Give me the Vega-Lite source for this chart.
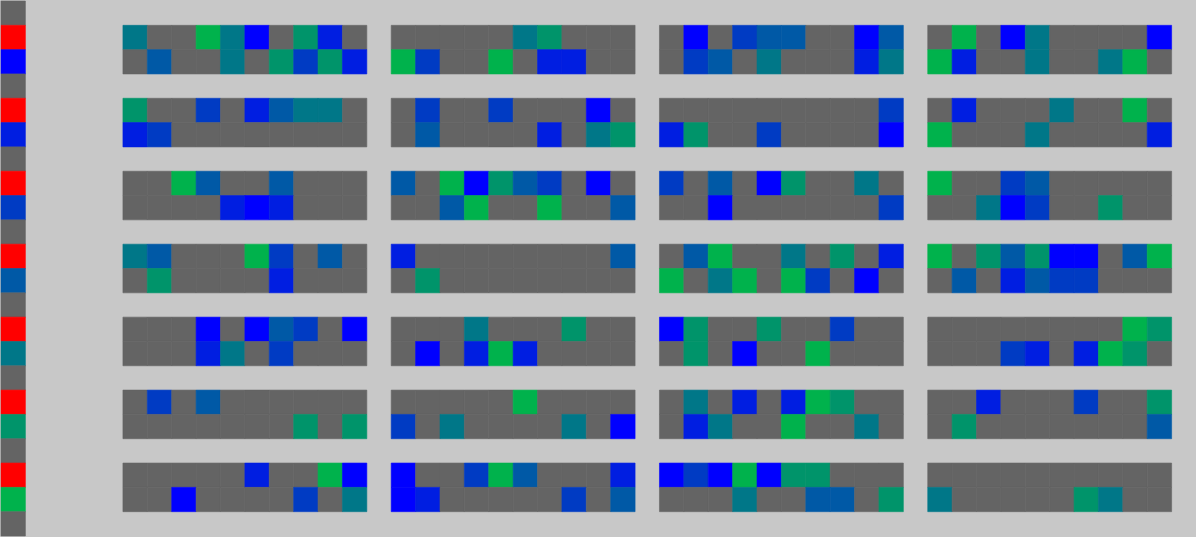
{
"$schema": "https://vega.github.io/schema/vega-lite/v6.json",
"autosize": {"type": "fit", "contains": "padding"},
"width": 1196, "height": 537, "padding": 0,
"background": "#c8c8c8",
"config": {"view": {"stroke": null}},
"data": {"values": [
{"x":0,"y":0,"c":0},{"x":0,"y":1,"c":8},{"x":0,"y":2,"c":1},{"x":0,"y":3,"c":0},{"x":0,"y":4,"c":8},{"x":0,"y":5,"c":2},{"x":0,"y":6,"c":0},{"x":0,"y":7,"c":8},{"x":0,"y":8,"c":3},{"x":0,"y":9,"c":0},{"x":0,"y":10,"c":8},{"x":0,"y":11,"c":4},{"x":0,"y":12,"c":0},{"x":0,"y":13,"c":8},{"x":0,"y":14,"c":5},{"x":0,"y":15,"c":0},{"x":0,"y":16,"c":8},{"x":0,"y":17,"c":6},{"x":0,"y":18,"c":0},{"x":0,"y":19,"c":8},{"x":0,"y":20,"c":7},{"x":0,"y":21,"c":0},

{"x":5,"y":1,"c":5},{"x":6,"y":1,"c":0},{"x":7,"y":1,"c":0},{"x":8,"y":1,"c":7},{"x":9,"y":1,"c":5},{"x":10,"y":1,"c":1},{"x":11,"y":1,"c":0},{"x":12,"y":1,"c":6},{"x":13,"y":1,"c":2},{"x":14,"y":1,"c":0},
{"x":16,"y":1,"c":0},{"x":17,"y":1,"c":0},{"x":18,"y":1,"c":0},{"x":19,"y":1,"c":0},{"x":20,"y":1,"c":0},{"x":21,"y":1,"c":5},{"x":22,"y":1,"c":6},{"x":23,"y":1,"c":0},{"x":24,"y":1,"c":0},{"x":25,"y":1,"c":0},
{"x":27,"y":1,"c":0},{"x":28,"y":1,"c":1},{"x":29,"y":1,"c":0},{"x":30,"y":1,"c":3},{"x":31,"y":1,"c":4},{"x":32,"y":1,"c":4},{"x":33,"y":1,"c":0},{"x":34,"y":1,"c":0},{"x":35,"y":1,"c":1},{"x":36,"y":1,"c":4},
{"x":38,"y":1,"c":0},{"x":39,"y":1,"c":7},{"x":40,"y":1,"c":0},{"x":41,"y":1,"c":1},{"x":42,"y":1,"c":5},{"x":43,"y":1,"c":0},{"x":44,"y":1,"c":0},{"x":45,"y":1,"c":0},{"x":46,"y":1,"c":0},{"x":47,"y":1,"c":1},

{"x":5,"y":2,"c":0},{"x":6,"y":2,"c":4},{"x":7,"y":2,"c":0},{"x":8,"y":2,"c":0},{"x":9,"y":2,"c":5},{"x":10,"y":2,"c":0},{"x":11,"y":2,"c":6},{"x":12,"y":2,"c":3},{"x":13,"y":2,"c":6},{"x":14,"y":2,"c":2},
{"x":16,"y":2,"c":7},{"x":17,"y":2,"c":3},{"x":18,"y":2,"c":0},{"x":19,"y":2,"c":0},{"x":20,"y":2,"c":7},{"x":21,"y":2,"c":0},{"x":22,"y":2,"c":2},{"x":23,"y":2,"c":2},{"x":24,"y":2,"c":0},{"x":25,"y":2,"c":0},
{"x":27,"y":2,"c":0},{"x":28,"y":2,"c":3},{"x":29,"y":2,"c":4},{"x":30,"y":2,"c":0},{"x":31,"y":2,"c":5},{"x":32,"y":2,"c":0},{"x":33,"y":2,"c":0},{"x":34,"y":2,"c":0},{"x":35,"y":2,"c":2},{"x":36,"y":2,"c":5},
{"x":38,"y":2,"c":7},{"x":39,"y":2,"c":2},{"x":40,"y":2,"c":0},{"x":41,"y":2,"c":0},{"x":42,"y":2,"c":5},{"x":43,"y":2,"c":0},{"x":44,"y":2,"c":0},{"x":45,"y":2,"c":5},{"x":46,"y":2,"c":7},{"x":47,"y":2,"c":0},

{"x":5,"y":4,"c":6},{"x":6,"y":4,"c":0},{"x":7,"y":4,"c":0},{"x":8,"y":4,"c":3},{"x":9,"y":4,"c":0},{"x":10,"y":4,"c":2},{"x":11,"y":4,"c":4},{"x":12,"y":4,"c":5},{"x":13,"y":4,"c":5},{"x":14,"y":4,"c":0},
{"x":16,"y":4,"c":0},{"x":17,"y":4,"c":3},{"x":18,"y":4,"c":0},{"x":19,"y":4,"c":0},{"x":20,"y":4,"c":3},{"x":21,"y":4,"c":0},{"x":22,"y":4,"c":0},{"x":23,"y":4,"c":0},{"x":24,"y":4,"c":1},{"x":25,"y":4,"c":0},
{"x":27,"y":4,"c":0},{"x":28,"y":4,"c":0},{"x":29,"y":4,"c":0},{"x":30,"y":4,"c":0},{"x":31,"y":4,"c":0},{"x":32,"y":4,"c":0},{"x":33,"y":4,"c":0},{"x":34,"y":4,"c":0},{"x":35,"y":4,"c":0},{"x":36,"y":4,"c":3},
{"x":38,"y":4,"c":0},{"x":39,"y":4,"c":2},{"x":40,"y":4,"c":0},{"x":41,"y":4,"c":0},{"x":42,"y":4,"c":0},{"x":43,"y":4,"c":5},{"x":44,"y":4,"c":0},{"x":45,"y":4,"c":0},{"x":46,"y":4,"c":7},{"x":47,"y":4,"c":0},

{"x":5,"y":5,"c":2},{"x":6,"y":5,"c":3},{"x":7,"y":5,"c":0},{"x":8,"y":5,"c":0},{"x":9,"y":5,"c":0},{"x":10,"y":5,"c":0},{"x":11,"y":5,"c":0},{"x":12,"y":5,"c":0},{"x":13,"y":5,"c":0},{"x":14,"y":5,"c":0},
{"x":16,"y":5,"c":0},{"x":17,"y":5,"c":4},{"x":18,"y":5,"c":0},{"x":19,"y":5,"c":0},{"x":20,"y":5,"c":0},{"x":21,"y":5,"c":0},{"x":22,"y":5,"c":2},{"x":23,"y":5,"c":0},{"x":24,"y":5,"c":5},{"x":25,"y":5,"c":6},
{"x":27,"y":5,"c":2},{"x":28,"y":5,"c":6},{"x":29,"y":5,"c":0},{"x":30,"y":5,"c":0},{"x":31,"y":5,"c":3},{"x":32,"y":5,"c":0},{"x":33,"y":5,"c":0},{"x":34,"y":5,"c":0},{"x":35,"y":5,"c":0},{"x":36,"y":5,"c":1},
{"x":38,"y":5,"c":7},{"x":39,"y":5,"c":0},{"x":40,"y":5,"c":0},{"x":41,"y":5,"c":0},{"x":42,"y":5,"c":5},{"x":43,"y":5,"c":0},{"x":44,"y":5,"c":0},{"x":45,"y":5,"c":0},{"x":46,"y":5,"c":0},{"x":47,"y":5,"c":2},

{"x":5,"y":7,"c":0},{"x":6,"y":7,"c":0},{"x":7,"y":7,"c":7},{"x":8,"y":7,"c":4},{"x":9,"y":7,"c":0},{"x":10,"y":7,"c":0},{"x":11,"y":7,"c":4},{"x":12,"y":7,"c":0},{"x":13,"y":7,"c":0},{"x":14,"y":7,"c":0},
{"x":16,"y":7,"c":4},{"x":17,"y":7,"c":0},{"x":18,"y":7,"c":7},{"x":19,"y":7,"c":1},{"x":20,"y":7,"c":6},{"x":21,"y":7,"c":4},{"x":22,"y":7,"c":3},{"x":23,"y":7,"c":0},{"x":24,"y":7,"c":1},{"x":25,"y":7,"c":0},
{"x":27,"y":7,"c":3},{"x":28,"y":7,"c":0},{"x":29,"y":7,"c":4},{"x":30,"y":7,"c":0},{"x":31,"y":7,"c":1},{"x":32,"y":7,"c":6},{"x":33,"y":7,"c":0},{"x":34,"y":7,"c":0},{"x":35,"y":7,"c":5},{"x":36,"y":7,"c":0},
{"x":38,"y":7,"c":7},{"x":39,"y":7,"c":0},{"x":40,"y":7,"c":0},{"x":41,"y":7,"c":3},{"x":42,"y":7,"c":4},{"x":43,"y":7,"c":0},{"x":44,"y":7,"c":0},{"x":45,"y":7,"c":0},{"x":46,"y":7,"c":0},{"x":47,"y":7,"c":0},

{"x":5,"y":8,"c":0},{"x":6,"y":8,"c":0},{"x":7,"y":8,"c":0},{"x":8,"y":8,"c":0},{"x":9,"y":8,"c":2},{"x":10,"y":8,"c":1},{"x":11,"y":8,"c":2},{"x":12,"y":8,"c":0},{"x":13,"y":8,"c":0},{"x":14,"y":8,"c":0},
{"x":16,"y":8,"c":0},{"x":17,"y":8,"c":0},{"x":18,"y":8,"c":4},{"x":19,"y":8,"c":7},{"x":20,"y":8,"c":0},{"x":21,"y":8,"c":0},{"x":22,"y":8,"c":7},{"x":23,"y":8,"c":0},{"x":24,"y":8,"c":0},{"x":25,"y":8,"c":4},
{"x":27,"y":8,"c":0},{"x":28,"y":8,"c":0},{"x":29,"y":8,"c":1},{"x":30,"y":8,"c":0},{"x":31,"y":8,"c":0},{"x":32,"y":8,"c":0},{"x":33,"y":8,"c":0},{"x":34,"y":8,"c":0},{"x":35,"y":8,"c":0},{"x":36,"y":8,"c":3},
{"x":38,"y":8,"c":0},{"x":39,"y":8,"c":0},{"x":40,"y":8,"c":5},{"x":41,"y":8,"c":1},{"x":42,"y":8,"c":3},{"x":43,"y":8,"c":0},{"x":44,"y":8,"c":0},{"x":45,"y":8,"c":6},{"x":46,"y":8,"c":0},{"x":47,"y":8,"c":0},

{"x":5,"y":10,"c":5},{"x":6,"y":10,"c":4},{"x":7,"y":10,"c":0},{"x":8,"y":10,"c":0},{"x":9,"y":10,"c":0},{"x":10,"y":10,"c":7},{"x":11,"y":10,"c":3},{"x":12,"y":10,"c":0},{"x":13,"y":10,"c":4},{"x":14,"y":10,"c":0},
{"x":16,"y":10,"c":2},{"x":17,"y":10,"c":0},{"x":18,"y":10,"c":0},{"x":19,"y":10,"c":0},{"x":20,"y":10,"c":0},{"x":21,"y":10,"c":0},{"x":22,"y":10,"c":0},{"x":23,"y":10,"c":0},{"x":24,"y":10,"c":0},{"x":25,"y":10,"c":4},
{"x":27,"y":10,"c":0},{"x":28,"y":10,"c":4},{"x":29,"y":10,"c":7},{"x":30,"y":10,"c":0},{"x":31,"y":10,"c":0},{"x":32,"y":10,"c":5},{"x":33,"y":10,"c":0},{"x":34,"y":10,"c":6},{"x":35,"y":10,"c":0},{"x":36,"y":10,"c":2},
{"x":38,"y":10,"c":7},{"x":39,"y":10,"c":0},{"x":40,"y":10,"c":6},{"x":41,"y":10,"c":4},{"x":42,"y":10,"c":6},{"x":43,"y":10,"c":1},{"x":44,"y":10,"c":1},{"x":45,"y":10,"c":0},{"x":46,"y":10,"c":4},{"x":47,"y":10,"c":7},

{"x":5,"y":11,"c":0},{"x":6,"y":11,"c":6},{"x":7,"y":11,"c":0},{"x":8,"y":11,"c":0},{"x":9,"y":11,"c":0},{"x":10,"y":11,"c":0},{"x":11,"y":11,"c":2},{"x":12,"y":11,"c":0},{"x":13,"y":11,"c":0},{"x":14,"y":11,"c":0},
{"x":16,"y":11,"c":0},{"x":17,"y":11,"c":6},{"x":18,"y":11,"c":0},{"x":19,"y":11,"c":0},{"x":20,"y":11,"c":0},{"x":21,"y":11,"c":0},{"x":22,"y":11,"c":0},{"x":23,"y":11,"c":0},{"x":24,"y":11,"c":0},{"x":25,"y":11,"c":0},
{"x":27,"y":11,"c":7},{"x":28,"y":11,"c":0},{"x":29,"y":11,"c":5},{"x":30,"y":11,"c":7},{"x":31,"y":11,"c":0},{"x":32,"y":11,"c":7},{"x":33,"y":11,"c":3},{"x":34,"y":11,"c":0},{"x":35,"y":11,"c":1},{"x":36,"y":11,"c":0},
{"x":38,"y":11,"c":0},{"x":39,"y":11,"c":4},{"x":40,"y":11,"c":0},{"x":41,"y":11,"c":2},{"x":42,"y":11,"c":4},{"x":43,"y":11,"c":3},{"x":44,"y":11,"c":3},{"x":45,"y":11,"c":0},{"x":46,"y":11,"c":0},{"x":47,"y":11,"c":0},

{"x":5,"y":13,"c":0},{"x":6,"y":13,"c":0},{"x":7,"y":13,"c":0},{"x":8,"y":13,"c":1},{"x":9,"y":13,"c":0},{"x":10,"y":13,"c":1},{"x":11,"y":13,"c":4},{"x":12,"y":13,"c":3},{"x":13,"y":13,"c":0},{"x":14,"y":13,"c":1},
{"x":16,"y":13,"c":0},{"x":17,"y":13,"c":0},{"x":18,"y":13,"c":0},{"x":19,"y":13,"c":5},{"x":20,"y":13,"c":0},{"x":21,"y":13,"c":0},{"x":22,"y":13,"c":0},{"x":23,"y":13,"c":6},{"x":24,"y":13,"c":0},{"x":25,"y":13,"c":0},
{"x":27,"y":13,"c":1},{"x":28,"y":13,"c":6},{"x":29,"y":13,"c":0},{"x":30,"y":13,"c":0},{"x":31,"y":13,"c":6},{"x":32,"y":13,"c":0},{"x":33,"y":13,"c":0},{"x":34,"y":13,"c":3},{"x":35,"y":13,"c":0},{"x":36,"y":13,"c":0},
{"x":38,"y":13,"c":0},{"x":39,"y":13,"c":0},{"x":40,"y":13,"c":0},{"x":41,"y":13,"c":0},{"x":42,"y":13,"c":0},{"x":43,"y":13,"c":0},{"x":44,"y":13,"c":0},{"x":45,"y":13,"c":0},{"x":46,"y":13,"c":7},{"x":47,"y":13,"c":6},

{"x":5,"y":14,"c":0},{"x":6,"y":14,"c":0},{"x":7,"y":14,"c":0},{"x":8,"y":14,"c":2},{"x":9,"y":14,"c":5},{"x":10,"y":14,"c":0},{"x":11,"y":14,"c":3},{"x":12,"y":14,"c":0},{"x":13,"y":14,"c":0},{"x":14,"y":14,"c":0},
{"x":16,"y":14,"c":0},{"x":17,"y":14,"c":1},{"x":18,"y":14,"c":0},{"x":19,"y":14,"c":2},{"x":20,"y":14,"c":7},{"x":21,"y":14,"c":2},{"x":22,"y":14,"c":0},{"x":23,"y":14,"c":0},{"x":24,"y":14,"c":0},{"x":25,"y":14,"c":0},
{"x":27,"y":14,"c":0},{"x":28,"y":14,"c":6},{"x":29,"y":14,"c":0},{"x":30,"y":14,"c":1},{"x":31,"y":14,"c":0},{"x":32,"y":14,"c":0},{"x":33,"y":14,"c":7},{"x":34,"y":14,"c":0},{"x":35,"y":14,"c":0},{"x":36,"y":14,"c":0},
{"x":38,"y":14,"c":0},{"x":39,"y":14,"c":0},{"x":40,"y":14,"c":0},{"x":41,"y":14,"c":3},{"x":42,"y":14,"c":2},{"x":43,"y":14,"c":0},{"x":44,"y":14,"c":2},{"x":45,"y":14,"c":7},{"x":46,"y":14,"c":6},{"x":47,"y":14,"c":0},

{"x":5,"y":16,"c":0},{"x":6,"y":16,"c":3},{"x":7,"y":16,"c":0},{"x":8,"y":16,"c":4},{"x":9,"y":16,"c":0},{"x":10,"y":16,"c":0},{"x":11,"y":16,"c":0},{"x":12,"y":16,"c":0},{"x":13,"y":16,"c":0},{"x":14,"y":16,"c":0},
{"x":16,"y":16,"c":0},{"x":17,"y":16,"c":0},{"x":18,"y":16,"c":0},{"x":19,"y":16,"c":0},{"x":20,"y":16,"c":0},{"x":21,"y":16,"c":7},{"x":22,"y":16,"c":0},{"x":23,"y":16,"c":0},{"x":24,"y":16,"c":0},{"x":25,"y":16,"c":0},
{"x":27,"y":16,"c":0},{"x":28,"y":16,"c":5},{"x":29,"y":16,"c":0},{"x":30,"y":16,"c":2},{"x":31,"y":16,"c":0},{"x":32,"y":16,"c":2},{"x":33,"y":16,"c":7},{"x":34,"y":16,"c":6},{"x":35,"y":16,"c":0},{"x":36,"y":16,"c":0},
{"x":38,"y":16,"c":0},{"x":39,"y":16,"c":0},{"x":40,"y":16,"c":2},{"x":41,"y":16,"c":0},{"x":42,"y":16,"c":0},{"x":43,"y":16,"c":0},{"x":44,"y":16,"c":3},{"x":45,"y":16,"c":0},{"x":46,"y":16,"c":0},{"x":47,"y":16,"c":6},

{"x":5,"y":17,"c":0},{"x":6,"y":17,"c":0},{"x":7,"y":17,"c":0},{"x":8,"y":17,"c":0},{"x":9,"y":17,"c":0},{"x":10,"y":17,"c":0},{"x":11,"y":17,"c":0},{"x":12,"y":17,"c":6},{"x":13,"y":17,"c":0},{"x":14,"y":17,"c":6},
{"x":16,"y":17,"c":3},{"x":17,"y":17,"c":0},{"x":18,"y":17,"c":5},{"x":19,"y":17,"c":0},{"x":20,"y":17,"c":0},{"x":21,"y":17,"c":0},{"x":22,"y":17,"c":0},{"x":23,"y":17,"c":5},{"x":24,"y":17,"c":0},{"x":25,"y":17,"c":1},
{"x":27,"y":17,"c":0},{"x":28,"y":17,"c":2},{"x":29,"y":17,"c":5},{"x":30,"y":17,"c":0},{"x":31,"y":17,"c":0},{"x":32,"y":17,"c":7},{"x":33,"y":17,"c":0},{"x":34,"y":17,"c":0},{"x":35,"y":17,"c":5},{"x":36,"y":17,"c":0},
{"x":38,"y":17,"c":0},{"x":39,"y":17,"c":6},{"x":40,"y":17,"c":0},{"x":41,"y":17,"c":0},{"x":42,"y":17,"c":0},{"x":43,"y":17,"c":0},{"x":44,"y":17,"c":0},{"x":45,"y":17,"c":0},{"x":46,"y":17,"c":0},{"x":47,"y":17,"c":4},

{"x":5,"y":19,"c":0},{"x":6,"y":19,"c":0},{"x":7,"y":19,"c":0},{"x":8,"y":19,"c":0},{"x":9,"y":19,"c":0},{"x":10,"y":19,"c":2},{"x":11,"y":19,"c":0},{"x":12,"y":19,"c":0},{"x":13,"y":19,"c":7},{"x":14,"y":19,"c":1},
{"x":16,"y":19,"c":1},{"x":17,"y":19,"c":0},{"x":18,"y":19,"c":0},{"x":19,"y":19,"c":3},{"x":20,"y":19,"c":7},{"x":21,"y":19,"c":4},{"x":22,"y":19,"c":0},{"x":23,"y":19,"c":0},{"x":24,"y":19,"c":0},{"x":25,"y":19,"c":2},
{"x":27,"y":19,"c":1},{"x":28,"y":19,"c":3},{"x":29,"y":19,"c":1},{"x":30,"y":19,"c":7},{"x":31,"y":19,"c":1},{"x":32,"y":19,"c":6},{"x":33,"y":19,"c":6},{"x":34,"y":19,"c":0},{"x":35,"y":19,"c":0},{"x":36,"y":19,"c":0},
{"x":38,"y":19,"c":0},{"x":39,"y":19,"c":0},{"x":40,"y":19,"c":0},{"x":41,"y":19,"c":0},{"x":42,"y":19,"c":0},{"x":43,"y":19,"c":0},{"x":44,"y":19,"c":0},{"x":45,"y":19,"c":0},{"x":46,"y":19,"c":0},{"x":47,"y":19,"c":0},

{"x":5,"y":20,"c":0},{"x":6,"y":20,"c":0},{"x":7,"y":20,"c":1},{"x":8,"y":20,"c":0},{"x":9,"y":20,"c":0},{"x":10,"y":20,"c":0},{"x":11,"y":20,"c":0},{"x":12,"y":20,"c":3},{"x":13,"y":20,"c":0},{"x":14,"y":20,"c":5},
{"x":16,"y":20,"c":1},{"x":17,"y":20,"c":2},{"x":18,"y":20,"c":0},{"x":19,"y":20,"c":0},{"x":20,"y":20,"c":0},{"x":21,"y":20,"c":0},{"x":22,"y":20,"c":0},{"x":23,"y":20,"c":3},{"x":24,"y":20,"c":0},{"x":25,"y":20,"c":4},
{"x":27,"y":20,"c":0},{"x":28,"y":20,"c":0},{"x":29,"y":20,"c":0},{"x":30,"y":20,"c":5},{"x":31,"y":20,"c":0},{"x":32,"y":20,"c":0},{"x":33,"y":20,"c":4},{"x":34,"y":20,"c":4},{"x":35,"y":20,"c":0},{"x":36,"y":20,"c":6},
{"x":38,"y":20,"c":5},{"x":39,"y":20,"c":0},{"x":40,"y":20,"c":0},{"x":41,"y":20,"c":0},{"x":42,"y":20,"c":0},{"x":43,"y":20,"c":0},{"x":44,"y":20,"c":6},{"x":45,"y":20,"c":5},{"x":46,"y":20,"c":0},{"x":47,"y":20,"c":0}
]},
"mark": {"type": "rect", "strokeWidth": 0.6},
"encoding": {
"x": {"field": "x", "type": "ordinal", "axis": null,
 "scale": {"domain": [0,1,2,3,4,5,6,7,8,9,10,11,12,13,14,15,16,17,18,19,20,21,22,23,24,25,26,27,28,29,30,31,32,33,34,35,36,37,38,39,40,41,42,43,44,45,46,47,48], "paddingInner": 0, "paddingOuter": 0}},
"y": {"field": "y", "type": "ordinal", "axis": null,
 "scale": {"domain": [0,1,2,3,4,5,6,7,8,9,10,11,12,13,14,15,16,17,18,19,20,21], "paddingInner": 0, "paddingOuter": 0}},
"color": {"field": "c", "type": "nominal", "legend": null,
 "scale": {"domain": [0,1,2,3,4,5,6,7,8], "range": ["#646464","#0000ff","#001ee1","#003bc3","#0059a6","#007788","#00946a","#00b24c","#ff0000"]}},
"stroke": {"field": "c", "type": "nominal", "legend": null,
 "scale": {"domain": [0,1,2,3,4,5,6,7,8], "range": ["#646464","#0000ff","#001ee1","#003bc3","#0059a6","#007788","#00946a","#00b24c","#ff0000"]}}
}
}
